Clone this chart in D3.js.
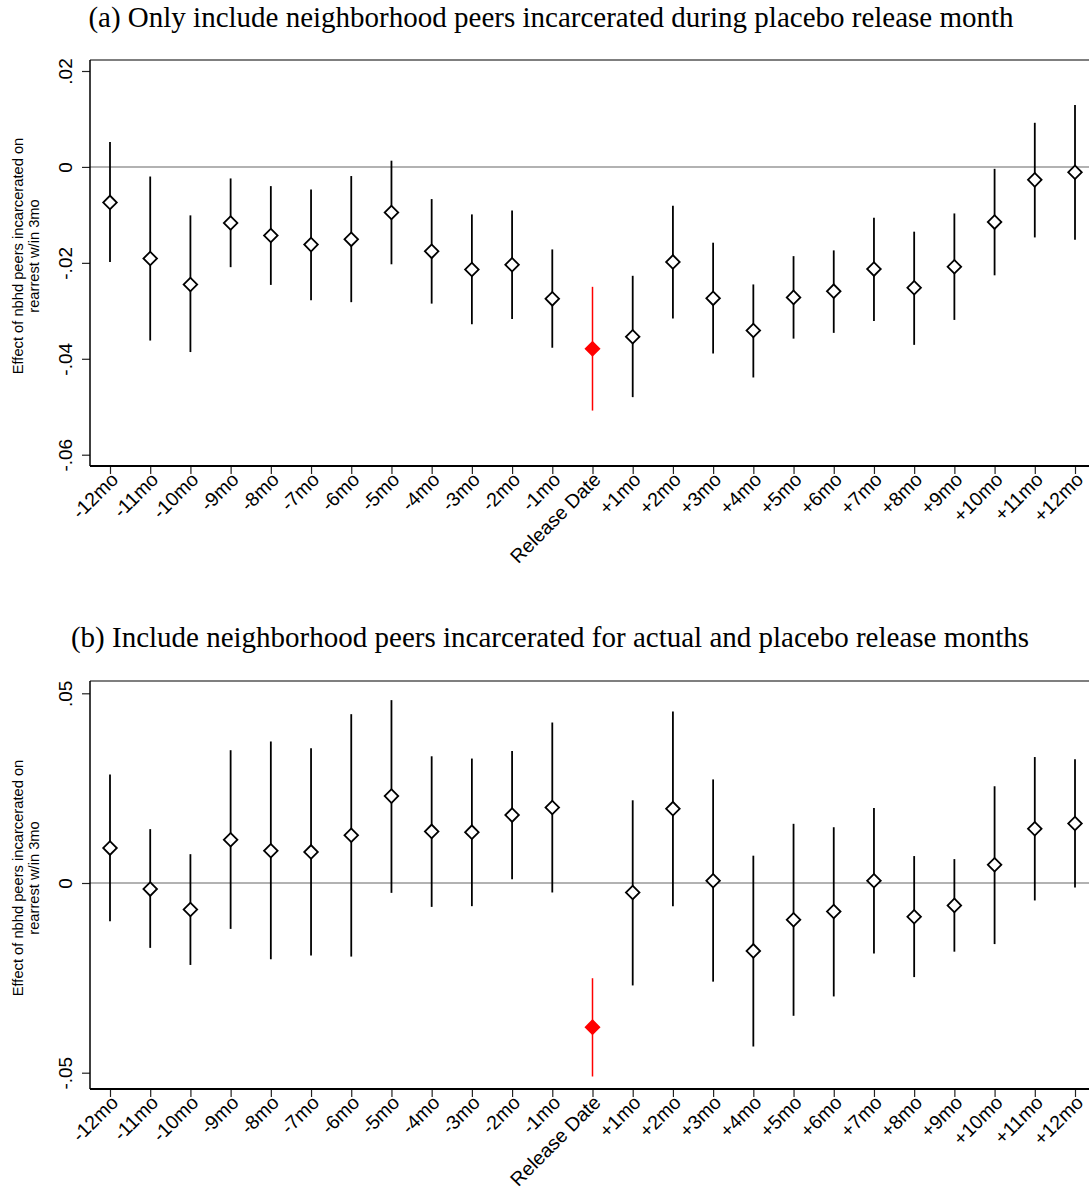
<!DOCTYPE html>
<html>
<head>
<meta charset="utf-8">
<script src="https://cdn.jsdelivr.net/npm/d3@7"></script>
<style>
body { margin: 0; background: #fff; }
</style>
</head>
<body>
<div id="chart"></div>
<script>
// taille du dessin
const width = 1089;
const height = 1190;

// mois autour de la date de sortie
const months = ["-12mo", "-11mo", "-10mo", "-9mo", "-8mo", "-7mo", "-6mo", "-5mo", "-4mo", "-3mo", "-2mo", "-1mo",
    "Release Date", "+1mo", "+2mo", "+3mo", "+4mo", "+5mo", "+6mo", "+7mo", "+8mo", "+9mo", "+10mo", "+11mo", "+12mo"];

// (a) estimations + intervalles
const estA = [-0.0074, -0.0191, -0.0245, -0.0117, -0.0143, -0.0162, -0.0151, -0.0095, -0.0176, -0.0214, -0.0204, -0.0275,
    -0.0379, -0.0354, -0.0198, -0.0274, -0.0341, -0.0272, -0.0259, -0.0213, -0.0252, -0.0208, -0.0115, -0.0027, -0.0011];
const loA = [-0.0198, -0.0362, -0.0386, -0.0209, -0.0246, -0.0278, -0.0282, -0.0203, -0.0285, -0.0328, -0.0317, -0.0377,
    -0.0508, -0.0480, -0.0316, -0.0389, -0.0439, -0.0358, -0.0346, -0.0321, -0.0371, -0.0319, -0.0226, -0.0147, -0.0152];
const hiA = [0.0052, -0.0020, -0.0101, -0.0024, -0.0040, -0.0047, -0.0019, 0.0013, -0.0067, -0.0099, -0.0091, -0.0172,
    -0.0250, -0.0227, -0.0081, -0.0158, -0.0245, -0.0186, -0.0174, -0.0106, -0.0135, -0.0097, -0.0004, 0.0092, 0.0129];

// (b)
const estB = [0.0092, -0.0016, -0.0070, 0.0114, 0.0085, 0.0082, 0.0126, 0.0229, 0.0136, 0.0134, 0.0179, 0.0199,
    -0.0380, -0.0025, 0.0196, 0.0006, -0.0179, -0.0097, -0.0075, 0.0006, -0.0089, -0.0059, 0.0048, 0.0143, 0.0157];
const loB = [-0.0101, -0.0171, -0.0216, -0.0121, -0.0201, -0.0191, -0.0194, -0.0026, -0.0063, -0.0061, 0.0010, -0.0025,
    -0.0510, -0.0270, -0.0061, -0.0260, -0.0431, -0.0350, -0.0299, -0.0186, -0.0248, -0.0181, -0.0161, -0.0046, -0.0012];
const hiB = [0.0286, 0.0142, 0.0076, 0.0350, 0.0373, 0.0355, 0.0445, 0.0482, 0.0334, 0.0328, 0.0348, 0.0423,
    -0.0251, 0.0218, 0.0452, 0.0273, 0.0072, 0.0156, 0.0147, 0.0198, 0.0071, 0.0063, 0.0255, 0.0332, 0.0326];

// graduations
const ticksA = [-0.06, -0.04, -0.02, 0, 0.02];
const tickLabelsA = ["-.06", "-.04", "-.02", "0", ".02"];
const ticksB = [-0.05, 0, 0.05];
const tickLabelsB = ["-.05", "0", ".05"];

const titleA = "(a) Only include neighborhood peers incarcerated during placebo release month";
const titleB = "(b) Include neighborhood peers incarcerated for actual and placebo release months";
const yTitle = ["Effect of nbhd peers incarcerated on", "rearrest w/in 3mo"];

var svg = d3.select("#chart")
    .append("svg")
    .attr("width", width)
    .attr("height", height)
    .style("background", "#fff");

var x = d3.scalePoint()
    .domain(months)
    .range([110, 1075]);

function drawPanel(p) {
    var y = d3.scaleLinear()
        .domain([p.ticks[0], p.ticks[p.ticks.length - 1]])
        .range([p.y0, p.y1]);

    var g = svg.append("g");

    // titre
    g.append("text")
        .attr("x", p.titleX)
        .attr("y", p.titleY)
        .attr("text-anchor", "middle")
        .style("font-family", "'Liberation Serif', 'Times New Roman', serif")
        .style("font-size", "29px")
        .text(p.title);

    // cadre du haut
    g.append("line")
        .attr("x1", 90).attr("x2", 1095)
        .attr("y1", p.top).attr("y2", p.top)
        .attr("stroke", "#555").attr("stroke-width", 1.3);

    // ligne zero
    g.append("line")
        .attr("x1", 90).attr("x2", 1095)
        .attr("y1", y(0)).attr("y2", y(0))
        .attr("stroke", "#999").attr("stroke-width", 1.6);

    // axe y
    var yAxis = g.append("g")
        .attr("transform", "translate(90,0)")
        .call(d3.axisLeft(y).tickValues(p.ticks).tickFormat((d, i) => p.tickLabels[i]).tickSize(8).tickSizeOuter(0));
    yAxis.select(".domain").remove();
    yAxis.append("line")
        .attr("x1", 0).attr("x2", 0)
        .attr("y1", p.top).attr("y2", p.bottom)
        .attr("stroke", "#000").attr("stroke-width", 1.5);
    yAxis.selectAll(".tick line").attr("stroke", "#222").attr("stroke-width", 1.2);
    yAxis.selectAll(".tick text")
        .attr("transform", "rotate(-90)")
        .attr("x", 0)
        .attr("y", -18)
        .attr("dy", 0)
        .attr("text-anchor", "middle")
        .attr("fill", "#000")
        .style("font-family", "'Liberation Sans', Arial, sans-serif")
        .style("font-size", "19px");

    // titre axe y
    var mid = (p.top + p.bottom) / 2 - 7;
    g.append("text")
        .attr("transform", "translate(0," + mid + ") rotate(-90)")
        .attr("text-anchor", "middle")
        .style("font-family", "'Liberation Sans', Arial, sans-serif")
        .style("font-size", "14.7px")
        .selectAll("tspan")
        .data(yTitle)
        .join("tspan")
        .attr("x", 0)
        .attr("y", (d, i) => 23 + i * 16)
        .text(d => d);

    // axe x
    var xAxis = g.append("g")
        .attr("transform", "translate(0," + p.bottom + ")")
        .call(d3.axisBottom(x).tickSize(8).tickSizeOuter(0));
    xAxis.select(".domain").remove();
    xAxis.append("line")
        .attr("x1", 90).attr("x2", 1095)
        .attr("y1", 0).attr("y2", 0)
        .attr("stroke", "#000").attr("stroke-width", 1.8);
    xAxis.selectAll(".tick line").attr("stroke", "#222").attr("stroke-width", 1.2);
    xAxis.selectAll(".tick text")
        .attr("transform", "translate(4,10) rotate(-45)")
        .attr("x", 0)
        .attr("y", 0)
        .attr("dy", "0.35em")
        .attr("text-anchor", "end")
        .attr("fill", "#000")
        .style("font-family", "'Liberation Sans', Arial, sans-serif")
        .style("font-size", "19.5px");

    // intervalles de confiance
    g.append("g")
        .selectAll("line")
        .data(months)
        .join("line")
        .attr("x1", d => x(d))
        .attr("x2", d => x(d))
        .attr("y1", (d, i) => y(p.lo[i]))
        .attr("y2", (d, i) => y(p.hi[i]))
        .attr("stroke", d => d === "Release Date" ? "#ff0000" : "#000")
        .attr("stroke-width", d => d === "Release Date" ? 1.5 : 1.8);

    // points (losanges)
    g.append("g")
        .selectAll("path")
        .data(months)
        .join("path")
        .attr("d", d3.symbol(d3.symbolSquare, 92))
        .attr("transform", (d, i) => "translate(" + x(d) + "," + y(p.est[i]) + ") rotate(45)")
        .attr("fill", d => d === "Release Date" ? "#ff0000" : "#fff")
        .attr("stroke", d => d === "Release Date" ? "#ff0000" : "#000")
        .attr("stroke-width", 1.8);
}

drawPanel({title: titleA, titleX: 551, titleY: 27, top: 60, bottom: 466,
    y0: 454.7, y1: 71, ticks: ticksA, tickLabels: tickLabelsA, est: estA, lo: loA, hi: hiA});
drawPanel({title: titleB, titleX: 550, titleY: 647, top: 681, bottom: 1089,
    y0: 1072.7, y1: 693.3, ticks: ticksB, tickLabels: tickLabelsB, est: estB, lo: loB, hi: hiB});
</script>
</body>
</html>
